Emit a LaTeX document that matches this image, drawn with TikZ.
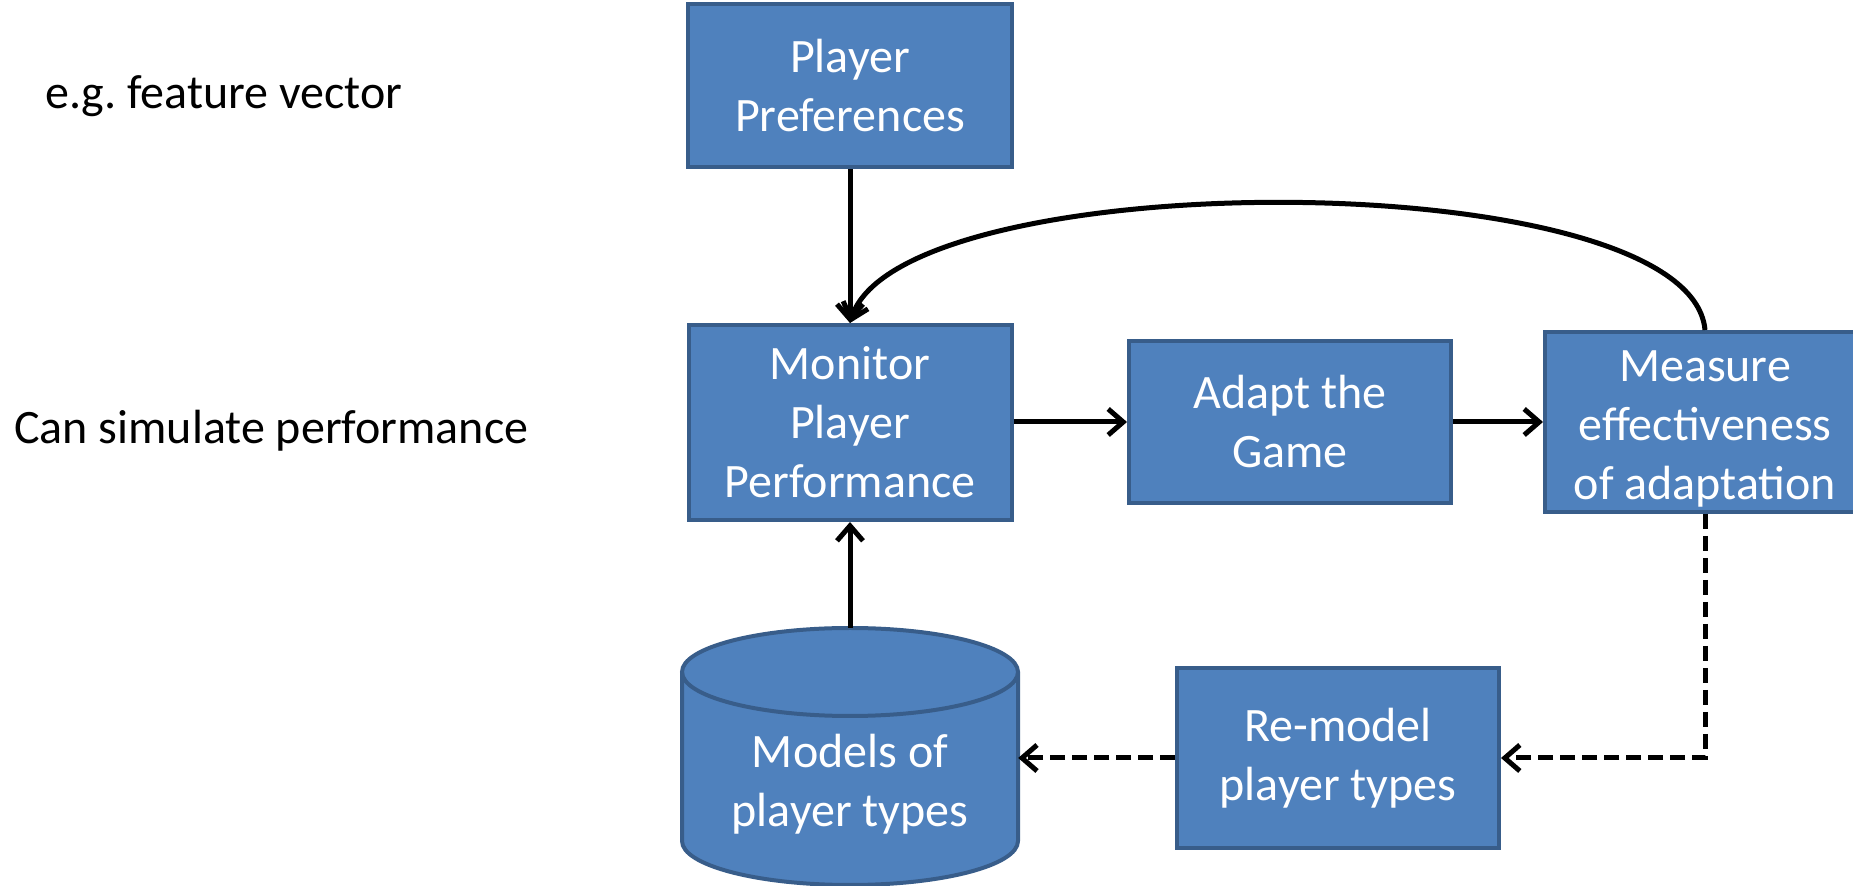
\documentclass[tikz,border=0pt]{standalone}
\usepackage{fontspec}
\setmainfont{Carlito}
\usetikzlibrary{arrows.meta}
\definecolor{boxfill}{HTML}{4F81BD}
\definecolor{boxline}{HTML}{385D8A}
\frenchspacing
\tikzset{
  boxtext/.style={text=white, align=center, font=\fontsize{48}{59}\selectfont, inner sep=0pt},
  procbox/.style={rectangle, fill=boxfill, draw=boxline, line width=4pt, boxtext},
  conn/.style={line width=5pt, -{Straight Barb[length=15pt,width=26pt,line width=5pt]}},
  dconn/.style={conn, dash pattern=on 15pt off 7pt},
  sidetext/.style={font=\fontsize{48}{59}\selectfont, anchor=base west, inner sep=0pt}
}
\begin{document}
\begin{tikzpicture}[x=1pt,y=1pt]
\useasboundingbox (0,0) rectangle (1853,886);
\clip (0,0) rectangle (1853,886);
% side texts
\node[sidetext] (eg) at (45,777) {e.g. feature vector};
\node[sidetext] (sim) at (14,442) {Can simulate performance};
% boxes
\node[procbox, minimum width=324pt, minimum height=163pt] (pref) at (850,800) {Player\\Preferences};
\node[procbox, minimum width=323pt, minimum height=195pt] (mon) at (850,463.5) {Monitor\\Player\\Performance};
\node[procbox, minimum width=322pt, minimum height=162pt] (adapt) at (1290,464) {Adapt the\\Game};
\node[procbox, minimum width=320pt, minimum height=180pt] (meas) at (1705,464) {};
\node[boxtext] (meastext) at ([yshift=-7pt]meas.center) {Measure\\effectiveness\\of adaptation};
\node[procbox, minimum width=322pt, minimum height=180pt] (remodel) at (1338,128) {Re-model\\player types};
% cylinder
\fill[boxfill] (682,214) -- (682,45) arc[start angle=180, end angle=360, x radius=168, y radius=44]
  -- (1018,214) arc[start angle=0, end angle=180, x radius=168, y radius=44] -- cycle;
\draw[boxline, line width=4pt] (682,214) -- (682,45) arc[start angle=180, end angle=360, x radius=168, y radius=44] -- (1018,214);
\draw[boxline, line width=4pt] (850,214) ellipse[x radius=168, y radius=44];
\node[rectangle, minimum width=336pt, minimum height=257pt, inner sep=0pt] (models) at (850,129.5) {};
\node[boxtext] (modelstext) at (850,102) {Models of\\player types};
% connectors
\draw[conn] (pref.south) -- (mon.north);
\draw[conn] (models.north) -- (mon.south);
\draw[conn] (mon.east |- adapt.west) -- (adapt.west);
\draw[conn] (adapt.east) -- (meas.west);
\draw[conn] (meas.north) .. controls (1690,724) and (900,724) .. (mon.north);
\draw[dconn] (meas.south) -- (meas.south |- remodel.east) -- (remodel.east);
\draw[dconn] (remodel.west) -- (remodel.west -| models.east);
\end{tikzpicture}
\end{document}
